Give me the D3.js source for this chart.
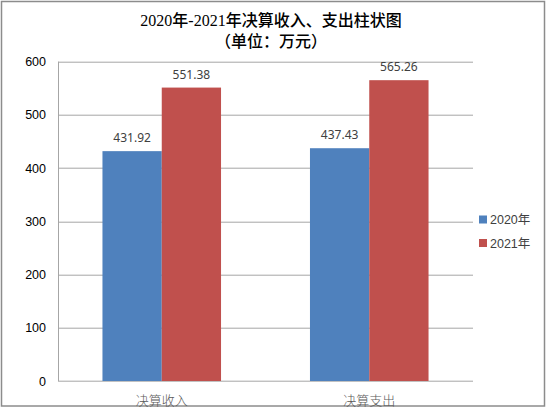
<!DOCTYPE html>
<html>
<head>
<meta charset="utf-8">
<script src="https://cdn.jsdelivr.net/npm/d3@7"></script>
<style>
  body { margin: 0; background: #fff; }
  svg { display: block; }
</style>
</head>
<body>
<svg id="chart"></svg>
<script>
// Chart data
const categories = ['决算收入', '决算支出'];
const seriesNames = ['2020年', '2021年'];
const values2020 = [431.92, 437.43];
const values2021 = [551.38, 565.26];
const yTicks = [0, 100, 200, 300, 400, 500, 600];
const titleLines = ['2020年-2021年决算收入、支出柱状图', '（单位：万元）'];

const seriesValues = [values2020, values2021];
const colors = ['#4f81bd', '#c0504d'];

const width = 546, height = 409;
const margin = {top: 61.7, right: 73, bottom: 28, left: 58};
const innerW = width - margin.left - margin.right;
const innerH = height - margin.top - margin.bottom;

const svg = d3.select('#chart')
    .attr('width', width)
    .attr('height', height);

// outer chart border
svg.append('rect')
    .attr('x', 1.5).attr('y', 1.5)
    .attr('width', width - 3).attr('height', height - 4.5)
    .attr('fill', '#fff')
    .attr('stroke', '#8c8c8c')
    .attr('stroke-width', 1.5);

// title, two lines
svg.selectAll('.title')
    .data(titleLines)
    .join('text')
    .attr('class', 'title')
    .attr('x', 271)
    .attr('y', (d, i) => 26 + i * 21)
    .attr('text-anchor', 'middle')
    .attr('font-family', '"Liberation Serif", "Noto Sans CJK SC", serif')
    .attr('font-weight', 500)
    .attr('font-size', 16)
    .attr('fill', '#000')
    .text(d => d);

const g = svg.append('g')
    .attr('transform', `translate(${margin.left},${margin.top})`);

// scales
const x0 = d3.scaleBand()
    .domain(categories)
    .range([0, innerW]);

// gap between groups is 1.5 bar widths
const barW = x0.bandwidth() / 3.5;
const x1 = d3.scaleBand()
    .domain(seriesNames)
    .range([0, barW * 2]);

const y = d3.scaleLinear()
    .domain([0, 600])
    .range([innerH, 0]);

// gridlines
g.selectAll('.grid')
    .data(yTicks)
    .join('line')
    .attr('class', 'grid')
    .attr('x1', 0).attr('x2', innerW)
    .attr('y1', d => Math.round(y(d)) + 0.5)
    .attr('y2', d => Math.round(y(d)) + 0.5)
    .attr('stroke', '#a6a6a6')
    .attr('stroke-width', 1);

// left axis line
g.append('line')
    .attr('x1', 0.5).attr('x2', 0.5)
    .attr('y1', 0).attr('y2', innerH)
    .attr('stroke', '#a6a6a6');

// y axis labels
const yAxis = d3.axisLeft(y)
    .tickValues(yTicks)
    .tickSize(0)
    .tickPadding(12);
const yAxisG = g.append('g').call(yAxis);
yAxisG.select('.domain').remove();
yAxisG.selectAll('text')
    .attr('font-family', '"Liberation Sans", Arial, sans-serif')
    .attr('font-size', 12.5)
    .attr('fill', '#000');

// bars
const groups = g.selectAll('.group')
    .data(categories)
    .join('g')
    .attr('class', 'group')
    .attr('transform', d => `translate(${x0(d) + (x0.bandwidth() - barW * 2) / 2},0)`);

groups.selectAll('rect')
    .data((d, ci) => seriesNames.map((s, si) => ({s, si, v: seriesValues[si][ci]})))
    .join('rect')
    .attr('x', d => x1(d.s))
    .attr('width', x1.bandwidth())
    .attr('y', d => y(d.v))
    .attr('height', d => innerH - y(d.v))
    .attr('fill', d => colors[d.si]);

// data labels
groups.selectAll('.label')
    .data((d, ci) => seriesNames.map((s, si) => ({s, si, v: seriesValues[si][ci]})))
    .join('text')
    .attr('class', 'label')
    .attr('x', d => x1(d.s) + x1.bandwidth() / 2)
    .attr('y', d => y(d.v) - 9)
    .attr('text-anchor', 'middle')
    .attr('font-family', '"Noto Sans", "Liberation Sans", sans-serif')
    .attr('font-size', 12)
    .attr('fill', '#404040')
    .text(d => d.v.toFixed(2));

// x axis category labels
g.selectAll('.cat')
    .data(categories)
    .join('text')
    .attr('class', 'cat')
    .attr('x', d => x0(d) + x0.bandwidth() / 2)
    .attr('y', innerH + 24)
    .attr('text-anchor', 'middle')
    .attr('font-family', '"Noto Sans CJK SC", serif')
    .attr('font-size', 13)
    .attr('font-weight', 300)
    .attr('fill', '#595959')
    .text(d => d);

// legend
const legend = svg.append('g')
    .attr('transform', 'translate(479,215.5)');
const items = legend.selectAll('g')
    .data(seriesNames)
    .join('g')
    .attr('transform', (d, i) => `translate(0,${i * 23.5})`);
items.append('rect')
    .attr('width', 8).attr('height', 8)
    .attr('fill', (d, i) => colors[i]);
items.append('text')
    .attr('x', 11)
    .attr('y', 8.5)
    .attr('font-family', '"Liberation Sans", "Noto Sans CJK SC", sans-serif')
    .attr('font-size', 12.5)
    .attr('fill', '#404040')
    .text(d => d);
</script>
</body>
</html>
